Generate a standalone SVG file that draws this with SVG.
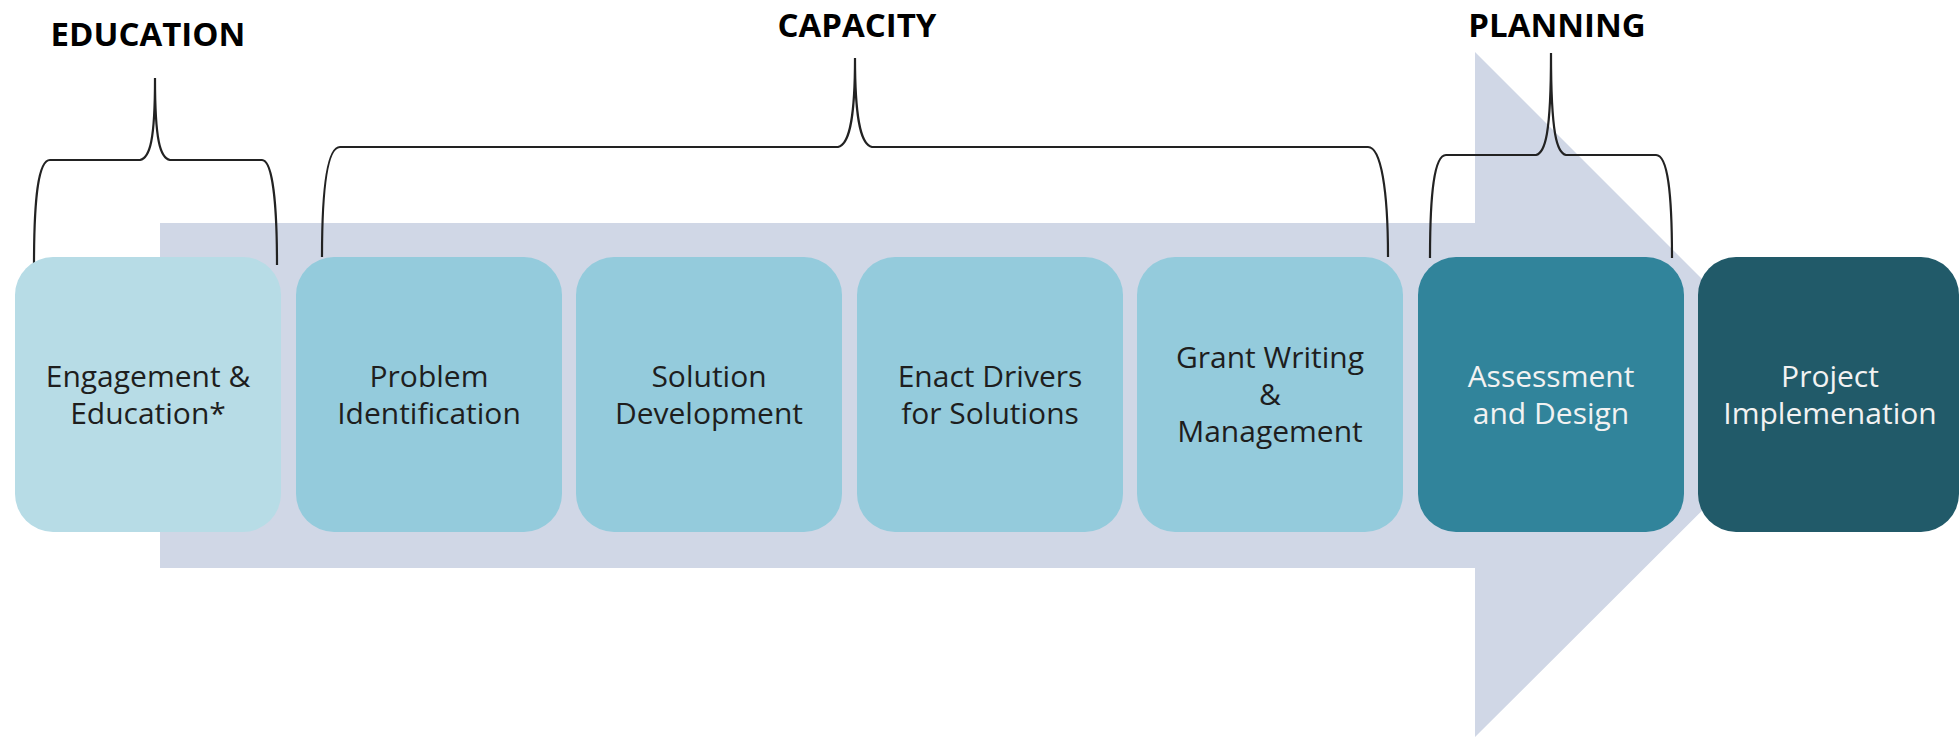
<svg xmlns="http://www.w3.org/2000/svg" width="1959" height="737" viewBox="0 0 1959 737">
<style>
.box{stroke:none}
.light{fill:#b7dce6}
.mid{fill:#94cbdc}
.teal{fill:#31849b}
.dark{fill:#215a69}
.lbl{font-family:"Open Sans","Liberation Sans",sans-serif;font-size:30px;text-anchor:middle;fill:#1e1e1e}
.lblw{fill:#f2f2f2}
.hdr{font-family:"Open Sans","Liberation Sans",sans-serif;font-size:33px;font-weight:bold;text-anchor:middle;fill:#000}
.brace{fill:none;stroke:#222;stroke-width:2.2}
</style>
<rect width="1959" height="737" fill="#fff"/>
<g id="flow-arrow">
<polygon points="160,223 1475,223 1475,52 1818,395 1475,737 1475,568 160,568" fill="#d0d7e6"/>
</g>
<g id="connectors">
<path class="brace" d="M34 265 C34 200 38 160 50 160 L140 160 C150 158 155 140 155 78 C155 140 160 158 170 160 L262 160 C272 160 277 200 277 265"/>
<path class="brace" d="M322 257 C322 190 327 147 340 147 L838 147 C848 145 855 125 855 58 C855 125 862 145 872 147 L1368 147 C1381 147 1388 190 1388 257"/>
<path class="brace" d="M1430 258 C1430 195 1434 155 1446 155 L1536 155 C1545 153 1551 135 1551 53 C1551 135 1557 153 1566 155 L1656 155 C1668 155 1672 195 1672 258"/>
</g>
<g id="headers">
<text class="hdr" x="148" y="46">EDUCATION</text>
<text class="hdr" x="857" y="37">CAPACITY</text>
<text class="hdr" x="1557" y="37">PLANNING</text>
</g>
<g id="node-engagement">
<rect class="box light" x="15" y="257" width="266" height="275" rx="38"/>
<text class="lbl" x="148" y="387">Engagement &amp;</text>
<text class="lbl" x="148" y="424">Education*</text>
</g>
<g id="node-problem">
<rect class="box mid" x="296" y="257" width="266" height="275" rx="38"/>
<text class="lbl" x="429" y="387">Problem</text>
<text class="lbl" x="429" y="424">Identification</text>
</g>
<g id="node-solution">
<rect class="box mid" x="576" y="257" width="266" height="275" rx="38"/>
<text class="lbl" x="709" y="387">Solution</text>
<text class="lbl" x="709" y="424">Development</text>
</g>
<g id="node-enact">
<rect class="box mid" x="857" y="257" width="266" height="275" rx="38"/>
<text class="lbl" x="990" y="387">Enact Drivers</text>
<text class="lbl" x="990" y="424">for Solutions</text>
</g>
<g id="node-grant">
<rect class="box mid" x="1137" y="257" width="266" height="275" rx="38"/>
<text class="lbl" x="1270" y="368">Grant Writing</text>
<text class="lbl" x="1270" y="405">&amp;</text>
<text class="lbl" x="1270" y="442">Management</text>
</g>
<g id="node-assessment">
<rect class="box teal" x="1418" y="257" width="266" height="275" rx="38"/>
<text class="lbl lblw" x="1551" y="387">Assessment</text>
<text class="lbl lblw" x="1551" y="424">and Design</text>
</g>
<g id="node-implementation">
<rect class="box dark" x="1698" y="257" width="261" height="275" rx="38"/>
<text class="lbl lblw" x="1830" y="387">Project</text>
<text class="lbl lblw" x="1830" y="424">Implemenation</text>
</g>
</svg>
